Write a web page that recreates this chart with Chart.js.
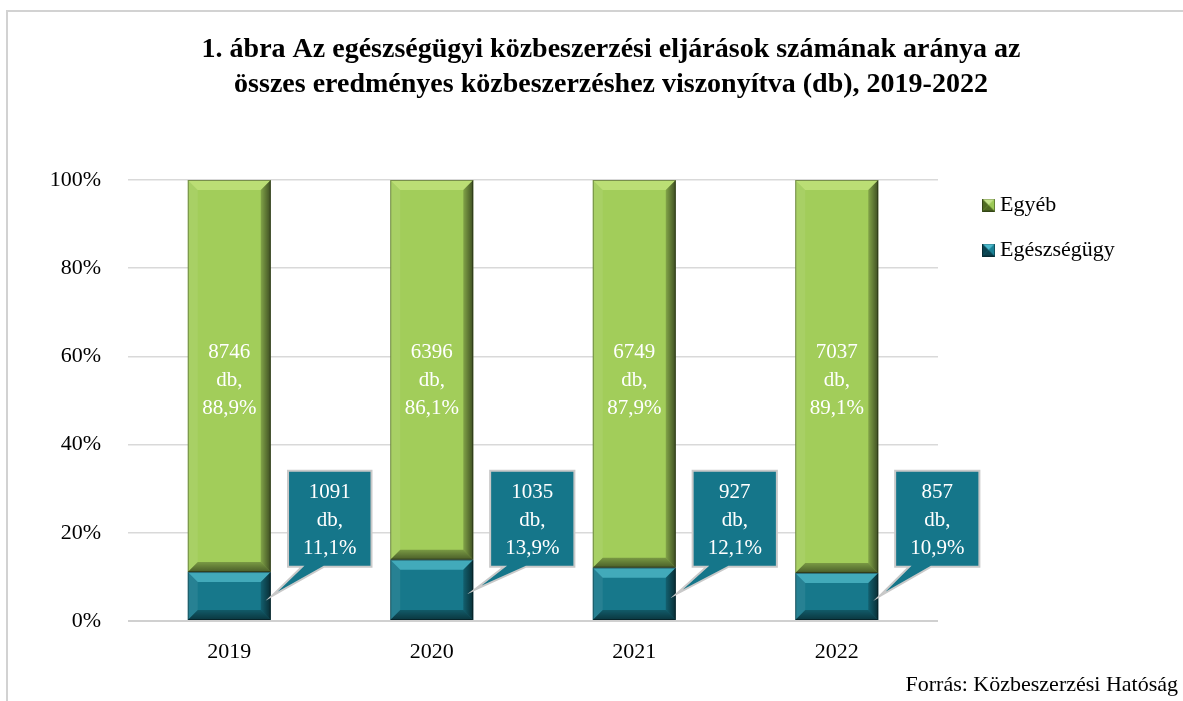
<!DOCTYPE html>
<html>
<head>
<meta charset="utf-8">
<title>Egészségügyi közbeszerzések aránya</title>
<script src="https://cdn.jsdelivr.net/npm/chart.js@4.4.1/dist/chart.umd.min.js"></script>
<style>
    html, body { margin: 0; padding: 0; background: #fff; }
    #wrap { position: relative; width: 1183px; height: 701px; overflow: hidden; }
    #frame { position: absolute; left: 6px; top: 10px; width: 1300px; height: 800px; border: 2px solid #d2d2d2; box-sizing: border-box; }
    #chart-box { position: absolute; left: 0; top: 0; width: 1183px; height: 701px; }
</style>
</head>
<body>
<div id="wrap">
    <div id="frame"></div>
    <div id="chart-box"><canvas id="chart"></canvas></div>
</div>
<script>
// adatok
const years = ['2019', '2020', '2021', '2022'];
const egeszsegugyDb = [1091, 1035, 927, 857];
const egyebDb = [8746, 6396, 6749, 7037];
const egeszsegugyPct = [11.1, 13.9, 12.1, 10.9];
const egyebPct = [88.9, 86.1, 87.9, 89.1];
const yTicks = [0, 20, 40, 60, 80, 100];

const FONT = "'Liberation Serif', 'Times New Roman', serif";
const GREEN = '#a2cd5a';
const TEAL = '#17788b';
const CALLOUT = '#15768a';
const PLOT_RIGHT = 938;   // jobb széle a rajzterületnek
const PAD_R = 5;

function fmtPct(v) {
    return v.toFixed(1).replace('.', ',') + '%';
}

//legend marker - small bevelled square, drawn at the right end of a wider transparent canvas
function makeMarker(base, light, dark) {
    var c = document.createElement('canvas');
    c.width = 40;
    c.height = 13;
    var g = c.getContext('2d');
    g.translate(27, 0);
    g.fillStyle = base;
    g.fillRect(0, 0, 13, 13);
    var tri = function (pts, col) {
        g.beginPath();
        g.moveTo(pts[0], pts[1]);
        g.lineTo(pts[2], pts[3]);
        g.lineTo(6.5, 6.5);
        g.closePath();
        g.fillStyle = col;
        g.fill();
    };
    tri([0, 0, 13, 0], light);
    tri([0, 0, 0, 13], dark);
    tri([0, 13, 13, 13], dark);
    g.strokeStyle = 'rgba(0,0,0,0.35)';
    g.strokeRect(0.5, 0.5, 12, 12);
    return c;
}
var markerEgyeb = makeMarker('#9cc957', '#c4e28c', '#4f6b22');
var markerEgeszseg = makeMarker('#1a8195', '#4ab8cc', '#0b4350');

//bevel effect on every bar
const bevelPlugin = {
    id: 'bevel',
    afterDatasetsDraw(chart) {
        var ctx = chart.ctx;
        chart.data.datasets.forEach(function (ds, di) {
            var meta = chart.getDatasetMeta(di);
            var light = di === 0 ? 'rgba(120,230,245,0.45)' : 'rgba(235,255,170,0.35)';
            meta.data.forEach(function (bar) {
                var p = bar.getProps(['x', 'y', 'base', 'width'], true);
                var l = p.x - p.width / 2, r = p.x + p.width / 2;
                var t = Math.min(p.y, p.base), b = Math.max(p.y, p.base);
                var s = 10;
                var poly = function (pts, fill) {
                    ctx.beginPath();
                    ctx.moveTo(pts[0], pts[1]);
                    for (var i = 2; i < pts.length; i += 2) ctx.lineTo(pts[i], pts[i + 1]);
                    ctx.closePath();
                    ctx.fillStyle = fill;
                    ctx.fill();
                };
                ctx.save();
                //top
                poly([l, t, r, t, r - s, t + s, l + s, t + s], light);
                //left
                poly([l, t, l + s, t + s, l + s, b - s, l, b], 'rgba(255,255,255,0.07)');
                //right
                var gr = ctx.createLinearGradient(r - s, 0, r, 0);
                gr.addColorStop(0, 'rgba(0,0,0,0.2)');
                gr.addColorStop(1, 'rgba(0,0,0,0.62)');
                poly([r, t, r - s, t + s, r - s, b - s, r, b], gr);
                //bottom
                var gb = ctx.createLinearGradient(0, b - s, 0, b);
                gb.addColorStop(0, 'rgba(0,0,0,0.25)');
                gb.addColorStop(1, 'rgba(0,0,0,0.55)');
                poly([l, b, r, b, r - s, b - s, l + s, b - s], gb);
                ctx.strokeStyle = 'rgba(0,0,0,0.35)';
                ctx.lineWidth = 1;
                ctx.strokeRect(l + 0.5, t + 0.5, r - l - 1, b - t - 1);
                ctx.restore();
            });
        });
    }
};

//data labels: text in green bars, callouts for teal bars
const labelPlugin = {
    id: 'feliratok',
    afterDatasetsDraw(chart) {
        var ctx = chart.ctx;
        var yScale = chart.scales.y;
        ctx.save();
        ctx.font = '21px ' + FONT;
        ctx.textAlign = 'center';
        ctx.textBaseline = 'middle';

        //Egyéb
        chart.getDatasetMeta(1).data.forEach(function (bar, i) {
            var p = bar.getProps(['x'], true);
            var cy = yScale.getPixelForValue(54.6);
            var lines = [String(egyebDb[i]), 'db,', fmtPct(egyebPct[i])];
            ctx.fillStyle = '#fff';
            lines.forEach(function (txt, k) {
                ctx.fillText(txt, p.x, cy + (k - 1) * 28);
            });
        });

        //Egészségügy callouts
        chart.getDatasetMeta(0).data.forEach(function (bar, i) {
            var p = bar.getProps(['x', 'y', 'base', 'width'], true);
            var barRight = p.x + p.width / 2;
            var lines = [String(egeszsegugyDb[i]), 'db,', fmtPct(egeszsegugyPct[i])];
            var tw = 0;
            lines.forEach(function (txt) { tw = Math.max(tw, ctx.measureText(txt).width); });
            var bw = tw + 30, bh = 96;
            var cx = barRight + 59;
            var cy = yScale.getPixelForValue(23.2);
            var bl = cx - bw / 2, bt = cy - bh / 2, br = cx + bw / 2, bb = cy + bh / 2;
            var ax = barRight + 1, ay = (p.y + p.base) / 2;

            ctx.beginPath();
            ctx.moveTo(bl, bt);
            ctx.lineTo(br, bt);
            ctx.lineTo(br, bb);
            ctx.lineTo(bl + 36, bb);
            ctx.lineTo(ax, ay);
            ctx.lineTo(bl + 14, bb);
            ctx.lineTo(bl, bb);
            ctx.closePath();
            ctx.fillStyle = CALLOUT;
            ctx.fill();
            ctx.strokeStyle = '#c9c9c9';
            ctx.lineWidth = 2;
            ctx.lineJoin = 'miter';
            ctx.stroke();

            ctx.fillStyle = '#fff';
            lines.forEach(function (txt, k) {
                ctx.fillText(txt, cx, cy + 2 + (k - 1) * 28);
            });
        });
        ctx.restore();
    }
};

function DrawChart() {
    var ctx = document.getElementById('chart');
    new Chart(ctx, {
        type: 'bar',
        data: {
            labels: years,
            datasets: [
                {
                    label: 'Egészségügy',
                    data: egeszsegugyPct,
                    backgroundColor: TEAL,
                    barPercentage: 0.41,
                    categoryPercentage: 1
                },
                {
                    label: 'Egyéb',
                    data: egyebPct,
                    backgroundColor: GREEN,
                    barPercentage: 0.41,
                    categoryPercentage: 1
                }
            ]
        },
        options: {
            responsive: true,
            maintainAspectRatio: false,
            animation: false,
            layout: {
                padding: { top: 12, left: 44, right: PAD_R, bottom: 4 }
            },
            scales: {
                x: {
                    stacked: true,
                    grid: { display: false },
                    border: { display: false },
                    ticks: {
                        color: '#000',
                        padding: 10,
                        font: { family: FONT, size: 22 }
                    },
                    afterFit: function (s) { s.height = 52; }
                },
                y: {
                    stacked: true,
                    min: 0,
                    max: 100,
                    border: { display: false },
                    grid: {
                        drawTicks: false,
                        color: function (c) { return c.index === 0 ? '#d0d0d0' : '#d9d9d9'; },
                        lineWidth: function (c) { return c.index === 0 ? 2 : 1.5; }
                    },
                    ticks: {
                        color: '#000',
                        padding: 27,
                        font: { family: FONT, size: 22 },
                        callback: function (v) { return v + '%'; }
                    },
                    afterBuildTicks: function (s) {
                        s.ticks = yTicks.map(function (v) { return { value: v }; });
                    },
                    afterFit: function (s) { s.width = 128 - 44; }
                },
                // maradék hely a jelmagyarázat után
                gap: {
                    type: 'linear',
                    position: 'right',
                    weight: 2000,
                    display: true,
                    grid: { display: false, drawTicks: false },
                    border: { display: false },
                    ticks: { display: false },
                    afterFit: function (s) {
                        var lw = s.chart.legend ? s.chart.legend.width : 0;
                        s.width = Math.max(0, s.chart.width - PAD_R - PLOT_RIGHT - lw);
                    }
                }
            },
            plugins: {
                title: {
                    display: true,
                    text: [
                        '1. ábra Az egészségügyi közbeszerzési eljárások számának aránya az',
                        'összes eredményes közbeszerzéshez viszonyítva (db), 2019-2022'
                    ],
                    color: '#000',
                    font: { family: FONT, size: 28, weight: 'bold', lineHeight: 1.25 },
                    padding: { top: 20.5, bottom: 77.5 }
                },
                subtitle: {
                    display: true,
                    position: 'bottom',
                    align: 'end',
                    text: 'Forrás: Közbeszerzési Hatóság',
                    color: '#000',
                    font: { family: FONT, size: 22, lineHeight: 24 / 22 },
                    padding: 0
                },
                legend: {
                    display: true,
                    position: 'right',
                    align: 'start',
                    title: {
                        display: true,
                        text: ' ',
                        font: { size: 12, lineHeight: 1 },
                        padding: { top: 147, bottom: 0 }
                    },
                    labels: {
                        usePointStyle: true,
                        pointStyleWidth: 28,
                        padding: 23,
                        color: '#000',
                        font: { family: FONT, size: 22 },
                        generateLabels: function (chart) {
                            var markers = [markerEgeszseg, markerEgyeb];
                            return chart.data.datasets.map(function (ds, i) {
                                return {
                                    text: ds.label,
                                    datasetIndex: i,
                                    fillStyle: ds.backgroundColor,
                                    strokeStyle: ds.backgroundColor,
                                    fontColor: '#000',
                                    lineWidth: 0,
                                    pointStyle: markers[i],
                                    hidden: false
                                };
                            }).reverse();
                        }
                    }
                },
                tooltip: { enabled: false }
            }
        },
        plugins: [bevelPlugin, labelPlugin]
    });
}
DrawChart();
</script>
</body>
</html>
